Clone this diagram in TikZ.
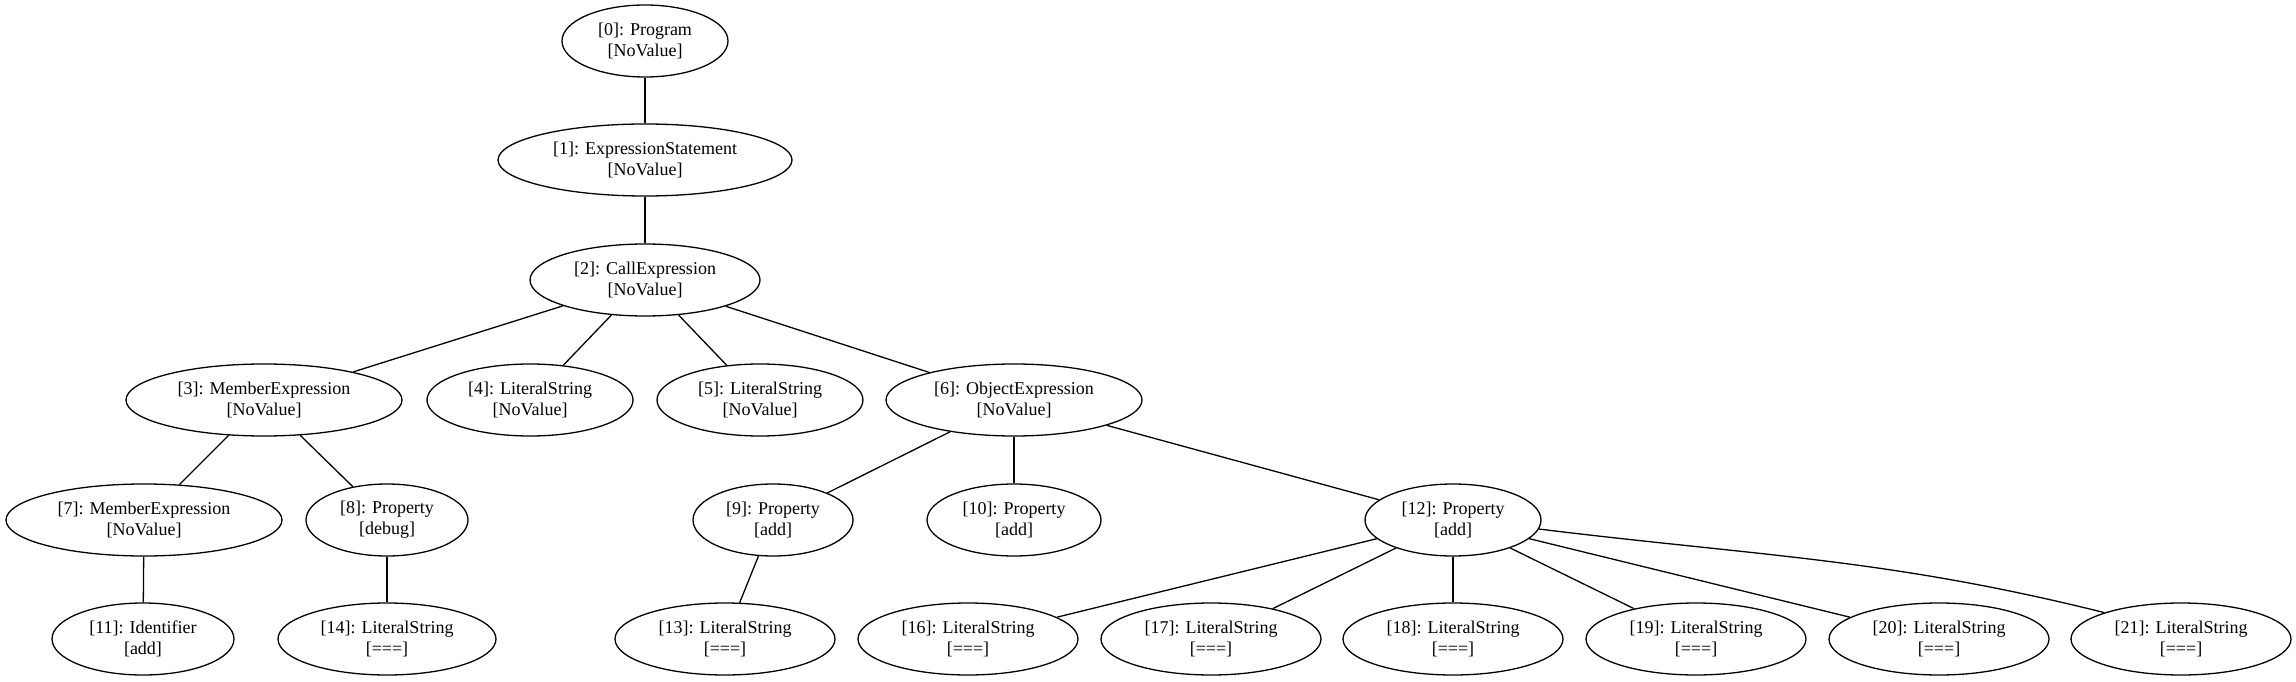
\documentclass[tikz,border=0pt]{standalone}
\usepackage{fontspec}
\setmainfont{Liberation Serif}
\usetikzlibrary{shapes.geometric}
\tikzset{
  ast/.style={ellipse, draw, line width=1.3pt, inner sep=0pt, minimum height=72pt,
    align=center, font=\fontsize{18}{21}\selectfont},
  edge/.style={line width=1.3pt}
}
\begin{document}
\begin{tikzpicture}[x=1pt,y=1pt]
\useasboundingbox (0,0) rectangle (2296,681);
\node[ast, minimum width=166pt] (n0) at (645,640) {[0]: Program\\{}[NoValue]};
\node[ast, minimum width=294pt] (n1) at (645,521) {[1]: ExpressionStatement\\{}[NoValue]};
\node[ast, minimum width=230pt] (n2) at (645,401) {[2]: CallExpression\\{}[NoValue]};
\node[ast, minimum width=276pt] (n3) at (264,281) {[3]: MemberExpression\\{}[NoValue]};
\node[ast, minimum width=206pt] (n4) at (530,281) {[4]: LiteralString\\{}[NoValue]};
\node[ast, minimum width=206pt] (n5) at (760,281) {[5]: LiteralString\\{}[NoValue]};
\node[ast, minimum width=256pt] (n6) at (1014,281) {[6]: ObjectExpression\\{}[NoValue]};
\node[ast, minimum width=276pt] (n7) at (144,161) {[7]: MemberExpression\\{}[NoValue]};
\node[ast, minimum width=162pt] (n8) at (387,161) {[8]: Property\\{}[debug]};
\node[ast, minimum width=160pt] (n9) at (773,161) {[9]: Property\\{}[add]};
\node[ast, minimum width=174pt] (n10) at (1014,161) {[10]: Property\\{}[add]};
\node[ast, minimum width=176pt] (n12) at (1453,161) {[12]: Property\\{}[add]};
\node[ast, minimum width=182pt] (n11) at (143,42) {[11]: Identifier\\{}[add]};
\node[ast, minimum width=218pt] (n14) at (387,42) {[14]: LiteralString\\{}[===]};
\node[ast, minimum width=220pt] (n13) at (725,42) {[13]: LiteralString\\{}[===]};
\node[ast, minimum width=220pt] (n16) at (968,42) {[16]: LiteralString\\{}[===]};
\node[ast, minimum width=220pt] (n17) at (1211,42) {[17]: LiteralString\\{}[===]};
\node[ast, minimum width=220pt] (n18) at (1453,42) {[18]: LiteralString\\{}[===]};
\node[ast, minimum width=220pt] (n19) at (1696,42) {[19]: LiteralString\\{}[===]};
\node[ast, minimum width=220pt] (n20) at (1939,42) {[20]: LiteralString\\{}[===]};
\node[ast, minimum width=220pt] (n21) at (2181,42) {[21]: LiteralString\\{}[===]};
\draw[edge] (n0) -- (n1);
\draw[edge] (n1) -- (n2);
\draw[edge] (n2) -- (n3);
\draw[edge] (n2) -- (n4);
\draw[edge] (n2) -- (n5);
\draw[edge] (n2) -- (n6);
\draw[edge] (n3) -- (n7);
\draw[edge] (n3) -- (n8);
\draw[edge] (n6) -- (n9);
\draw[edge] (n6) -- (n10);
\draw[edge] (n6) -- (n12);
\draw[edge] (n7) -- (n11);
\draw[edge] (n8) -- (n14);
\draw[edge] (n9) -- (n13);
\draw[edge] (n12) -- (n16);
\draw[edge] (n12) -- (n17);
\draw[edge] (n12) -- (n18);
\draw[edge] (n12) -- (n19);
\draw[edge] (n12) -- (n20);
\draw[edge] (n12.-6) to[out=-7,in=166] (n21.161);
\end{tikzpicture}
\end{document}
